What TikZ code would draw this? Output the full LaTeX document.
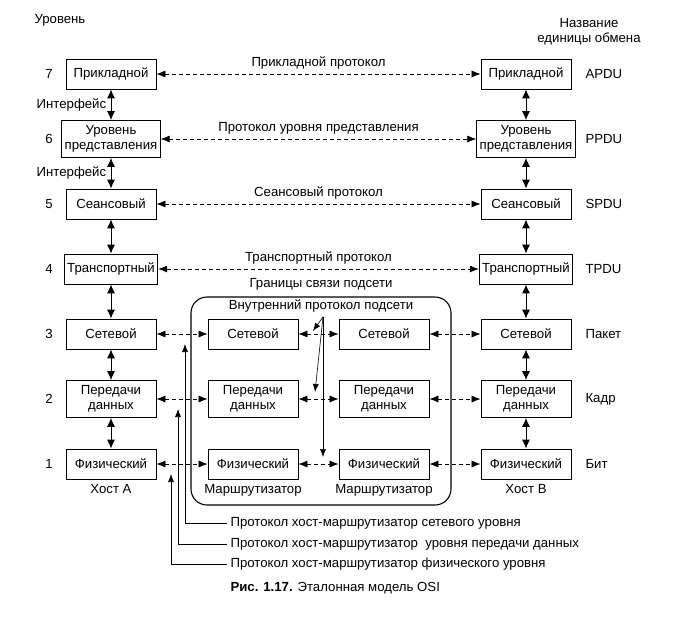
\documentclass[tikz,border=0pt]{standalone}
\usepackage{fontspec}
\setmainfont{Liberation Sans}
\usetikzlibrary{arrows.meta,positioning}
\tikzset{
	layer/.style={draw,line width=0.8pt,minimum width=90pt,minimum height=30pt,inner xsep=3pt,inner ysep=2pt,align=center},
	tall/.style={layer,minimum height=37pt},
	proto/.style={line width=0.7pt,dash pattern=on 4pt off 3pt,{Latex[length=9pt,width=7pt]}-{Latex[length=9pt,width=7pt]}},
	iface/.style={line width=0.9pt,{Latex[length=9pt,width=8pt]}-{Latex[length=9pt,width=8pt]}},
	hint/.style={line width=0.6pt,-{Latex[length=8pt,width=6pt]}}
}
\begin{document}
\begin{tikzpicture}[x=1pt,y=-1pt,font=\fontsize{13.2}{14.5}\selectfont]
	\useasboundingbox (0,0) rectangle (695,616);
	% host A
	\node[layer] (app-a) at (111,74) {Прикладной};
	\node[tall] (pres-a) at (111,139) {Уровень\\представления};
	\node[layer] (sess-a) at (111,204) {Сеансовый};
	\node[layer] (trans-a) at (111,269) {Транспортный};
	\node[layer] (net-a) at (111,334) {Сетевой};
	\node[tall] (data-a) at (111,399) {Передачи\\данных};
	\node[layer] (phys-a) at (111,464) {Физический};
	% host B
	\node[layer] (app-b) at (526,74) {Прикладной};
	\node[tall] (pres-b) at (526,139) {Уровень\\представления};
	\node[layer] (sess-b) at (526,204) {Сеансовый};
	\node[layer] (trans-b) at (526,269) {Транспортный};
	\node[layer] (net-b) at (526,334) {Сетевой};
	\node[tall] (data-b) at (526,399) {Передачи\\данных};
	\node[layer] (phys-b) at (526,464) {Физический};
	% routers
	\node[layer] (net-r1) at (253,334) {Сетевой};
	\node[tall] (data-r1) at (253,399) {Передачи\\данных};
	\node[layer] (phys-r1) at (253,464) {Физический};
	\node[layer] (net-r2) at (384,334) {Сетевой};
	\node[tall] (data-r2) at (384,399) {Передачи\\данных};
	\node[layer] (phys-r2) at (384,464) {Физический};
	\node[draw,line width=1.1pt,rounded corners=16pt,minimum width=260pt,minimum height=208pt] (subnet) at (321,401) {};
	% headings
	\node[anchor=west] (lvl) at (31,20) {Уровень};
	\node[align=center] (unit) at (589,32) {Название\\единицы обмена};
	\foreach \n/\y/\u in {7/74/APDU,6/139/PPDU,5/204/SPDU,4/269/TPDU,3/334/Пакет,2/399/Кадр,1/464/Бит}{
		\node (num\n) at (49,\y) {\n};
		\node[anchor=west] (unit\n) at (582,\y) {\u};
	}
	\node[below=1pt of phys-a] (host-a) {Хост А};
	\node[below=1pt of phys-b] (host-b) {Хост В};
	\node[below=1pt of phys-r1] (rtr1) {Маршрутизатор};
	\node[below=1pt of phys-r2] (rtr2) {Маршрутизатор};
	% peer protocols
	\draw[proto] (app-a)--(app-b) node[midway,above=1pt]{Прикладной протокол};
	\draw[proto] (pres-a)--(pres-b) node[midway,above=1pt]{Протокол уровня представления};
	\draw[proto] (sess-a)--(sess-b) node[midway,above=1pt]{Сеансовый протокол};
	\draw[proto] (trans-a)--(trans-b) node[midway,above=1pt]{Транспортный протокол};
	\node[above=3pt of subnet.north] (bound) {Границы связи подсети};
	\foreach \l in {net,data,phys}{
		\draw[proto] (\l-a)--(\l-r1);
		\draw[proto] (\l-r1)--(\l-r2);
		\draw[proto] (\l-r2)--(\l-b);
	}
	% interfaces
	\draw[iface] (app-a)--(pres-a) node[midway,left=1pt]{Интерфейс};
	\draw[iface] (pres-a)--(sess-a) node[midway,left=1pt]{Интерфейс};
	\draw[iface] (sess-a)--(trans-a);
	\draw[iface] (trans-a)--(net-a);
	\draw[iface] (net-a)--(data-a);
	\draw[iface] (data-a)--(phys-a);
	\draw[iface] (app-b)--(pres-b);
	\draw[iface] (pres-b)--(sess-b);
	\draw[iface] (sess-b)--(trans-b);
	\draw[iface] (trans-b)--(net-b);
	\draw[iface] (net-b)--(data-b);
	\draw[iface] (data-b)--(phys-b);
	% inner subnet protocol
	\node (inner) at (321,306) {Внутренний протокол подсети};
	\coordinate (src) at (323,317);
	\draw[hint] (src)--(313,331);
	\draw[hint] (src)--(315,392);
	\draw[hint] (src)--(323,457);
	% host-router protocols
	\node[anchor=west] (hr-net) at (227,523) {Протокол хост-маршрутизатор сетевого уровня};
	\node[anchor=west] (hr-data) at (227,544) {Протокол хост-маршрутизатор\ \ уровня передачи данных};
	\node[anchor=west] (hr-phys) at (227,564) {Протокол хост-маршрутизатор физического уровня};
	\coordinate (to-net) at (185,344);
	\coordinate (to-data) at (178,409);
	\coordinate (to-phys) at (171,474);
	\draw[hint] (hr-net.west) -| (to-net);
	\draw[hint] (hr-data.west) -| (to-data);
	\draw[hint] (hr-phys.west) -| (to-phys);
	\node[anchor=west] (cap) at (227,588) {\textbf{Рис. 1.17.} Эталонная модель OSI};
\end{tikzpicture}
\end{document}
